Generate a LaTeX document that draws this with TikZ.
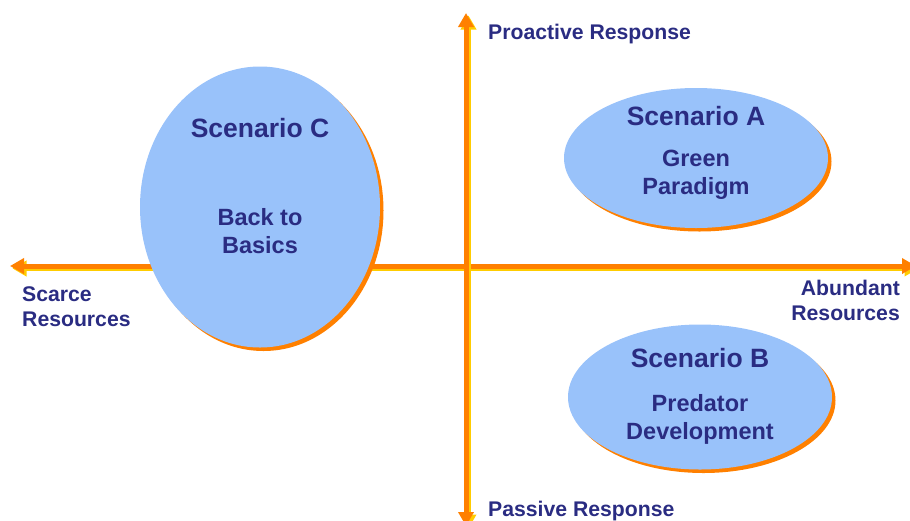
\documentclass[tikz,border=0pt]{standalone}
\usepackage{fontspec}
\setmainfont{Liberation Sans}
\usepackage{tikz}
\usetikzlibrary{calc,positioning,arrows.meta,shapes.geometric,shadows}
\definecolor{axisorange}{RGB}{255,128,0}
\definecolor{axisyellow}{RGB}{255,204,0}
\definecolor{bubble}{RGB}{153,194,250}
\definecolor{navy}{RGB}{42,44,130}
\tikzset{
  axis/.style={
    draw=axisorange, line width=5pt,
    -{Triangle[length=14pt,width=15pt]},
    preaction={draw=axisyellow, line width=5pt,
      -{Triangle[length=14pt,width=15pt]},
      transform canvas={shift={(2.5pt,-2.5pt)}}}},
  scenario/.style={
    ellipse, fill=bubble, draw=none,
    drop shadow={fill=axisorange, opacity=1,
      shadow xshift=3.5pt, shadow yshift=-3.5pt}},
  title/.style={text=navy, font=\bfseries\fontsize{26.5}{29}\selectfont},
  subtitle/.style={text=navy, align=center,
    font=\bfseries\fontsize{23.5}{28}\selectfont},
  axislabel/.style={text=navy, inner sep=0pt,
    font=\bfseries\fontsize{21.2}{25}\selectfont},
}
\begin{document}
\begin{tikzpicture}[x=1pt,y=-1pt]
  \useasboundingbox (0,0) rectangle (910,520);
  % axis ends
  \coordinate (west) at (10,266);
  \coordinate (east) at (916,266);
  \coordinate (north) at (466,13);
  \coordinate (south) at (466,526);
  \coordinate (origin) at (466,266);
  \draw[axis] (origin) -- (west);
  \draw[axis] (origin) -- (east);
  \draw[axis] (origin) -- (north);
  \draw[axis] (origin) -- (south);
  % scenarios
  \node[scenario, minimum width=240pt, minimum height=281pt] (scC) at (260,207) {};
  \node[scenario, minimum width=264pt, minimum height=140pt] (scA) at (696,158) {};
  \node[scenario, minimum width=264pt, minimum height=145pt] (scB) at (700,397) {};
  \node[title] (titleC) at ([yshift=79pt]scC.center) {Scenario C};
  \node[subtitle] (textC) at ([yshift=-24pt]scC.center) {Back to\\Basics};
  \node[title] (titleA) at ([yshift=42pt]scA.center) {Scenario A};
  \node[subtitle] (textA) at ([yshift=-17pt]scA.center) {Green\\Paradigm};
  \node[title] (titleB) at ([yshift=39pt]scB.center) {Scenario B};
  \node[subtitle] (textB) at ([yshift=-22pt]scB.center) {Predator\\Development};
  % axis labels
  \node[axislabel, anchor=west] (proactive) at (488,34) {Proactive Response};
  \node[axislabel, anchor=west] (passive) at (488,511) {Passive Response};
  \node[axislabel, anchor=north west, align=left] (scarce) at (22,286) {Scarce\\Resources};
  \node[axislabel, anchor=north east, align=right] (abundant) at (900,280) {Abundant\\Resources};
\end{tikzpicture}
\end{document}
